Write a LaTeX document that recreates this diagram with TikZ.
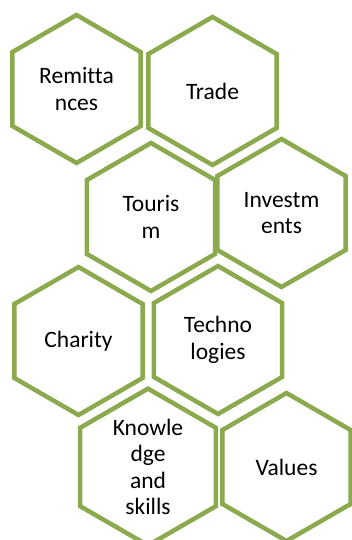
\documentclass[tikz,border=0pt]{standalone}
\usepackage{fontspec}
\setmainfont[Ligatures=NoCommon]{Carlito}
\usepackage{tikz}
\usetikzlibrary{shapes.geometric}
\definecolor{olivegreen}{RGB}{139,170,78}

\begin{document}
\begin{tikzpicture}[x=1pt,y=-1pt,
    hex/.style={regular polygon,regular polygon sides=6,shape border rotate=30,
      minimum size=148pt,inner sep=0pt,outer sep=0pt,draw=olivegreen,line width=4.5pt,
      align=center,font=\fontsize{23.5pt}{26.5pt}\selectfont}]
      \useasboundingbox (0,0) rectangle (352,540);
      \node[hex](Remittances) at (76.5,89){Remitta\\nces};
      \node[hex](Trade) at (212.5,91){Trade};
      \node[hex](Tourism) at (151,217){Touris\\m};
      \node[hex](Investments) at (281.5,213){Investm\\ents};
      \node[hex](Charity) at (78.5,341){Charity};
      \node[hex](Technologies) at (218,340){Techno\\logies};
      \node[hex](Knowledge) at (148,467){Knowle\\dge\\and\\skills};
      \node[hex](Values) at (286.5,467){Values};
    \end{tikzpicture}
\end{document}
